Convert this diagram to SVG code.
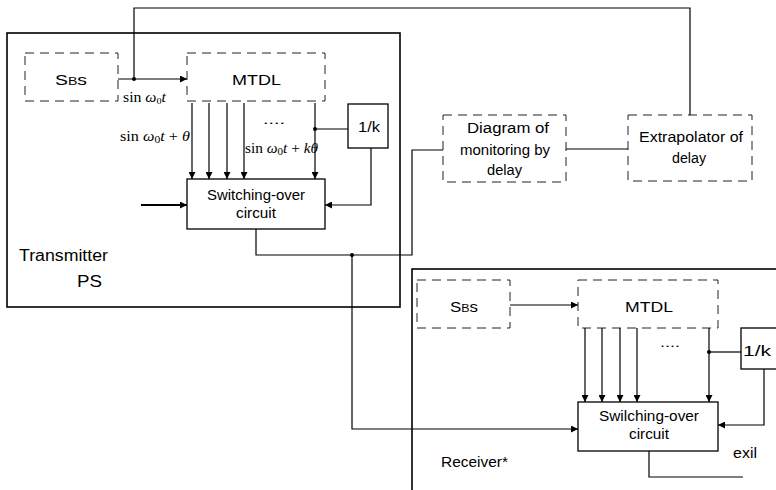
<svg xmlns="http://www.w3.org/2000/svg" width="776" height="490" viewBox="0 0 776 490">
<style>
.box{fill:none;stroke:#000;stroke-width:1.3}
.dash{fill:none;stroke:#222;stroke-width:1;stroke-dasharray:9 6}
.w{fill:none;stroke:#000;stroke-width:1.2}
.t{font-family:"Liberation Sans",Arial,sans-serif;font-size:14px;fill:#000}
.m{font-family:"Liberation Serif","Times New Roman",serif;font-size:14px;fill:#000}
.dot{fill:#000}
</style>
<defs>
<marker id="ah" viewBox="0 0 8 8" refX="8" refY="4" markerWidth="7" markerHeight="7" markerUnits="userSpaceOnUse" orient="auto">
<path d="M0,0 L8,4 L0,8 Z" fill="#000"/>
</marker>
</defs>
<rect width="776" height="490" fill="#fff"/>

<g id="transmitter">
<rect class="box" x="7" y="33" width="393" height="274" style="stroke-width:1.6"/>
<text class="t" x="19" y="261" textLength="89" lengthAdjust="spacingAndGlyphs" style="font-size:16px">Transmitter</text>
<text class="t" x="77" y="287" textLength="25" lengthAdjust="spacingAndGlyphs" style="font-size:16px">PS</text>
</g>
<g id="tx-sbs">
<rect class="dash" x="25" y="53" width="93" height="48"/>
<text class="t" x="55" y="85" textLength="32" lengthAdjust="spacingAndGlyphs" style="font-size:15px">S<tspan style="font-size:11px">B</tspan>s</text>
</g>
<g id="tx-mtdl">
<rect class="dash" x="187" y="53" width="138" height="48"/>
<text class="t" x="232" y="85" textLength="49" lengthAdjust="spacingAndGlyphs" style="font-size:15px">MTDL</text>
<text class="t" x="263" y="124" textLength="22" lengthAdjust="spacingAndGlyphs" style="font-size:13px">....</text>
</g>
<g id="tx-1k">
<rect class="box" x="348" y="104" width="40" height="44"/>
<text class="t" x="358" y="132" textLength="22" lengthAdjust="spacingAndGlyphs" style="font-size:15px">1/k</text>
</g>
<g id="tx-switch">
<rect class="box" x="187" y="179" width="138" height="50"/>
<text class="t" x="207" y="200" textLength="98" lengthAdjust="spacingAndGlyphs">Switching-over</text>
<text class="t" x="236" y="218" textLength="40" lengthAdjust="spacingAndGlyphs">circuit</text>
</g>
<g id="diagram-monitoring">
<rect class="dash" x="443" y="115" width="123" height="67"/>
<text class="t" x="467" y="133" textLength="82" lengthAdjust="spacingAndGlyphs">Diagram of</text>
<text class="t" x="460" y="155" textLength="90" lengthAdjust="spacingAndGlyphs">monitoring by</text>
<text class="t" x="487" y="175" textLength="35" lengthAdjust="spacingAndGlyphs">delay</text>
</g>
<g id="extrapolator">
<rect class="dash" x="628" y="115" width="124" height="66"/>
<text class="t" x="639" y="142" textLength="104" lengthAdjust="spacingAndGlyphs">Extrapolator of</text>
<text class="t" x="672" y="163" textLength="34" lengthAdjust="spacingAndGlyphs">delay</text>
</g>

<g id="receiver">
<rect class="box" x="412" y="269" width="380" height="240" style="stroke-width:1.6"/>
<text class="t" x="441" y="467" textLength="67" lengthAdjust="spacingAndGlyphs" style="font-size:15px">Receiver*</text>
<text class="t" x="733" y="458" textLength="24" lengthAdjust="spacingAndGlyphs">exil</text>
</g>
<g id="rx-sbs">
<rect class="dash" x="417" y="280" width="93" height="48"/>
<text class="t" x="450" y="312" textLength="28" lengthAdjust="spacingAndGlyphs" style="font-size:15px">S<tspan style="font-size:11px">B</tspan>s</text>
</g>
<g id="rx-mtdl">
<rect class="dash" x="578" y="280" width="140" height="48"/>
<text class="t" x="625" y="312" textLength="48" lengthAdjust="spacingAndGlyphs" style="font-size:15px">MTDL</text>
<text class="t" x="660" y="347" textLength="20" lengthAdjust="spacingAndGlyphs" style="font-size:13px">....</text>
</g>
<g id="rx-1k">
<rect class="box" x="741" y="328" width="45" height="41"/>
<text class="t" x="743" y="356" textLength="28" lengthAdjust="spacingAndGlyphs" style="font-size:15px">1/k</text>
</g>
<g id="rx-switch">
<rect class="box" x="578" y="402" width="140" height="49"/>
<text class="t" x="599" y="421" textLength="100" lengthAdjust="spacingAndGlyphs">Swilching-over</text>
<text class="t" x="629" y="439" textLength="40" lengthAdjust="spacingAndGlyphs">circuit</text>
</g>

<g id="labels">
<text class="m" x="123" y="102" font-size="12" textLength="43" lengthAdjust="spacingAndGlyphs">sin <tspan font-style="italic">ω</tspan><tspan font-size="9" dy="2">0</tspan><tspan font-style="italic" dy="-2">t</tspan></text>
<text class="m" x="120" y="141" textLength="70" lengthAdjust="spacingAndGlyphs">sin <tspan font-style="italic">ω</tspan><tspan font-size="10" dy="2">0</tspan><tspan font-style="italic" dy="-2">t</tspan> + <tspan font-style="italic">θ</tspan></text>
<text class="m" x="245" y="153" textLength="73" lengthAdjust="spacingAndGlyphs">sin <tspan font-style="italic">ω</tspan><tspan font-size="10" dy="2">0</tspan><tspan font-style="italic" dy="-2">t</tspan> + <tspan font-style="italic">kθ</tspan></text>
</g>

<g id="connectors">
<line class="w" x1="118" y1="79" x2="187" y2="79" marker-end="url(#ah)"/>
<circle class="dot" cx="134" cy="79" r="2"/>
<polyline class="w" points="134,79 134,8 690,8 690,115"/>
<line class="w" x1="192" y1="103" x2="192" y2="179" marker-end="url(#ah)"/>
<line class="w" x1="209" y1="103" x2="209" y2="179" marker-end="url(#ah)"/>
<line class="w" x1="227" y1="103" x2="227" y2="179" marker-end="url(#ah)"/>
<line class="w" x1="244" y1="103" x2="244" y2="179" marker-end="url(#ah)"/>
<line class="w" x1="315" y1="103" x2="315" y2="179" marker-end="url(#ah)"/>
<line class="w" x1="348" y1="129" x2="315" y2="129"/>
<circle class="dot" cx="315" cy="129" r="2"/>
<polyline class="w" points="371,148 371,205 325,205" marker-end="url(#ah)"/>
<line class="w" x1="141" y1="205" x2="187" y2="205" style="stroke-width:2" marker-end="url(#ah)"/>
<polyline class="w" points="256,229 256,255 412,255 412,150 443,150"/>
<circle class="dot" cx="352" cy="255" r="2"/>
<polyline class="w" points="352,255 352,429 578,429" marker-end="url(#ah)"/>
<line class="w" x1="566" y1="149" x2="628" y2="149"/>

<line class="w" x1="510" y1="305" x2="578" y2="305" marker-end="url(#ah)"/>
<line class="w" x1="585" y1="328" x2="585" y2="402" marker-end="url(#ah)"/>
<line class="w" x1="602" y1="328" x2="602" y2="402" marker-end="url(#ah)"/>
<line class="w" x1="620" y1="328" x2="620" y2="402" marker-end="url(#ah)"/>
<line class="w" x1="637" y1="328" x2="637" y2="402" marker-end="url(#ah)"/>
<line class="w" x1="709" y1="328" x2="709" y2="402" marker-end="url(#ah)"/>
<line class="w" x1="741" y1="352" x2="709" y2="352"/>
<circle class="dot" cx="709" cy="352" r="2"/>
<polyline class="w" points="764,369 764,425 718,425" marker-end="url(#ah)"/>
<polyline class="w" points="649,451 649,477 743,477"/>
</g>
</svg>
